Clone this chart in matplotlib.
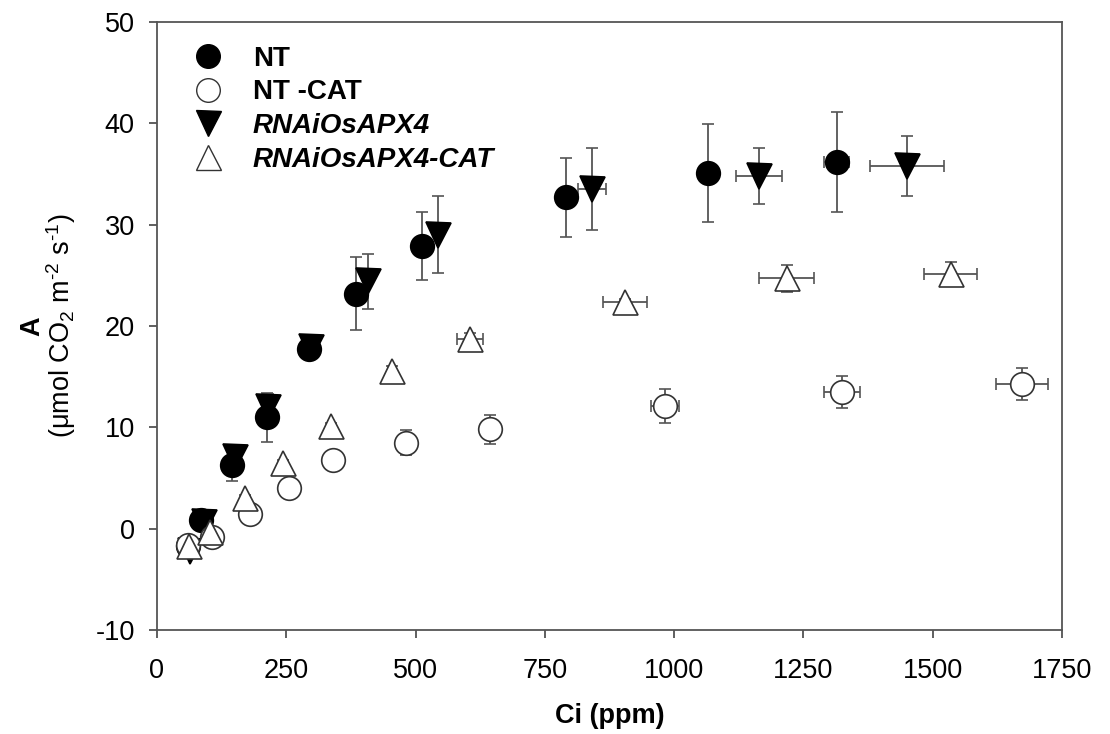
import matplotlib
matplotlib.use('Agg')
import matplotlib.pyplot as plt
from matplotlib.lines import Line2D

plt.rcParams['font.family'] = ['Liberation Sans', 'DejaVu Sans']
plt.rcParams['mathtext.default'] = 'regular'
plt.rcParams['axes.unicode_minus'] = False

# NT (filled circles)
nt_ci = [60, 86, 146, 212, 294, 384, 512, 791, 1065, 1314]
nt_a = [-1.7, 0.9, 6.3, 11.0, 17.7, 23.2, 27.9, 32.7, 35.1, 36.2]
nt_aerr = [0.3, 0.4, 1.6, 2.4, 0.5, 3.6, 3.4, 3.9, 4.85, 4.95]
nt_cierr = [2, 2, 3, 3, 4, 4, 5, 6, 8, 25]

# NT -CAT (open circles)
ntc_ci = [60, 106, 179, 256, 341, 482, 643, 982, 1324, 1673]
ntc_a = [-1.6, -0.8, 1.4, 4.0, 6.8, 8.5, 9.8, 12.1, 13.5, 14.3]
ntc_aerr = [0.3, 0.4, 0.4, 0.4, 0.4, 1.2, 1.45, 1.7, 1.6, 1.6]
ntc_cierr = [2, 3, 3, 3, 4, 6, 8, 27, 35, 50]

# RNAiOsAPX4 (filled inverted triangles)
rn_ci = [63, 90, 150, 214, 297, 409, 544, 842, 1164, 1450]
rn_a = [-2.2, 0.7, 7.1, 12.0, 17.9, 24.4, 29.0, 33.5, 34.8, 35.8]
rn_aerr = [0.3, 0.3, 0.8, 1.3, 0.5, 2.7, 3.8, 4.05, 2.8, 3.0]
rn_cierr = [2, 2, 3, 3, 3, 5, 5, 27, 45, 72]

# RNAiOsAPX4-CAT (open triangles)
rnc_ci = [62, 102, 170, 243, 336, 455, 605, 905, 1218, 1535]
rnc_a = [-1.7, -0.3, 3.0, 6.5, 10.1, 15.6, 18.7, 22.4, 24.7, 25.1]
rnc_aerr = [0.3, 0.3, 0.3, 0.3, 0.3, 0.5, 0.6, 0.3, 1.3, 1.2]
rnc_cierr = [2, 3, 3, 4, 5, 8, 25, 43, 53, 51]

labels = ['NT', 'NT -CAT', 'RNAiOsAPX4', 'RNAiOsAPX4-CAT']

fig = plt.figure(figsize=(11.1, 7.34), dpi=100)
ax = fig.add_axes([0.1414, 0.1417, 0.8154, 0.8283])

ebar = dict(ecolor='#555555', elinewidth=1.3, capsize=4.5, capthick=1.3,
            linestyle='none', markeredgewidth=1.2)

ax.errorbar(nt_ci, nt_a, yerr=nt_aerr, xerr=nt_cierr, marker='o', ms=17,
            mfc='black', mec='black', **ebar)
ax.errorbar(rn_ci, rn_a, yerr=rn_aerr, xerr=rn_cierr, marker='v', ms=18,
            mfc='black', mec='black', **ebar)
ax.errorbar(ntc_ci, ntc_a, yerr=ntc_aerr, xerr=ntc_cierr, marker='o', ms=17,
            mfc='white', mec='#333333', **ebar)
ax.errorbar(rnc_ci, rnc_a, yerr=rnc_aerr, xerr=rnc_cierr, marker='^', ms=18,
            mfc='white', mec='#333333', **ebar)

ax.set_xlim(0, 1750)
ax.set_ylim(-10, 50)
ax.set_xticks([0, 250, 500, 750, 1000, 1250, 1500, 1750])
ax.set_yticks([-10, 0, 10, 20, 30, 40, 50])
ax.tick_params(direction='out', length=6, width=1.2, labelsize=19.5,
               color='#444444', pad=10)
ax.tick_params(axis='x', pad=14)
for s in ax.spines.values():
    s.set_color('#555555')
    s.set_linewidth(1.3)

ax.set_xlabel('Ci (ppm)', fontsize=19.5, fontweight='bold', labelpad=14)
ax.text(-0.138, 0.5, 'A', transform=ax.transAxes, rotation=90,
        fontsize=19.5, fontweight='bold', ha='center', va='center')
ax.text(-0.106, 0.5, '(μmol CO$_2$ m$^{\u20102}$ s$^{\u20101}$)', transform=ax.transAxes,
        rotation=90, fontsize=19.5, ha='center', va='center')

handles = [
    Line2D([], [], marker='o', ms=17, mfc='black', mec='black', ls='none'),
    Line2D([], [], marker='o', ms=17, mfc='white', mec='#333333', ls='none'),
    Line2D([], [], marker='v', ms=18, mfc='black', mec='black', ls='none'),
    Line2D([], [], marker='^', ms=18, mfc='white', mec='#333333', ls='none'),
]
leg = ax.legend(handles, labels, loc='upper left', frameon=False,
                prop={'size': 20, 'weight': 'bold'}, handletextpad=0.6,
                labelspacing=0.28, bbox_to_anchor=(0.0, 1.0), borderaxespad=0.45)
for t in leg.get_texts()[2:]:
    t.set_style('italic')

fig.savefig('out.png', dpi=100)
